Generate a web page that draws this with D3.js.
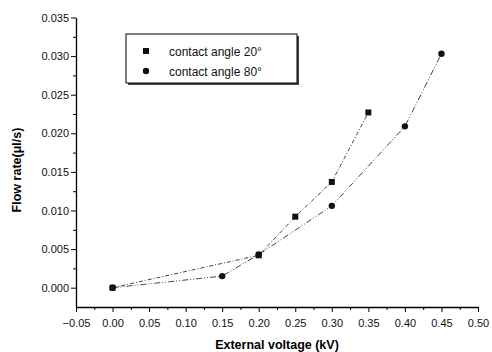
<!DOCTYPE html>
<html>
<head>
<meta charset="utf-8">
<script src="https://cdn.jsdelivr.net/npm/d3@7"></script>
<style>
  body { margin: 0; background: #fff; }
  svg { font-family: Arial, "Liberation Sans", sans-serif; }
</style>
</head>
<body>
<div id="chart"></div>
<script>
// data
const voltage20 = [0.00, 0.20, 0.25, 0.30, 0.35];
const flow20 = [0.0000, 0.0042, 0.0092, 0.0137, 0.0227];
const voltage80 = [0.00, 0.15, 0.20, 0.30, 0.40, 0.45];
const flow80 = [0.0000, 0.0015, 0.0043, 0.0106, 0.0209, 0.0303];
const xTicks = [-0.05, 0.00, 0.05, 0.10, 0.15, 0.20, 0.25, 0.30, 0.35, 0.40, 0.45, 0.50];
const yTicks = [0.000, 0.005, 0.010, 0.015, 0.020, 0.025, 0.030, 0.035];
const seriesLabels = ['contact angle 20°', 'contact angle 80°'];

const width = 492, height = 352;
const margin = { top: 17.5, right: 14, bottom: 45, left: 76 };

const svg = d3.select('#chart').append('svg')
    .attr('width', width)
    .attr('height', height);

const x = d3.scaleLinear().domain([-0.05, 0.5]).range([margin.left, width - margin.right]);
const y = d3.scaleLinear().domain([-0.0025, 0.035]).range([height - margin.bottom, margin.top]);

// axes
const xAxis = svg.append('g')
    .attr('transform', `translate(0,${height - margin.bottom})`)
    .call(d3.axisBottom(x).tickValues(xTicks).tickFormat(d3.format('.2f')).tickSize(5).tickSizeOuter(0));
const xMinor = svg.append('g')
    .attr('transform', `translate(0,${height - margin.bottom})`)
    .call(d3.axisBottom(x).tickValues(xTicks.slice(0, -1).map((d) => d + 0.025)).tickFormat('').tickSize(3).tickSizeOuter(0));
xMinor.select('.domain').remove();

const yAxis = svg.append('g')
    .attr('transform', `translate(${margin.left},0)`)
    .call(d3.axisLeft(y).tickValues(yTicks).tickFormat(d3.format('.3f')).tickSize(5).tickSizeOuter(0));
const yMinor = svg.append('g')
    .attr('transform', `translate(${margin.left},0)`)
    .call(d3.axisLeft(y).tickValues(yTicks.slice(0, -1).map((d) => d + 0.0025)).tickFormat('').tickSize(3).tickSizeOuter(0));
yMinor.select('.domain').remove();

svg.selectAll('.domain').attr('stroke', '#000').attr('stroke-width', 1.3);
svg.selectAll('.tick line').attr('stroke', '#000').attr('stroke-width', 1);
svg.selectAll('.tick text').attr('font-size', 11).attr('fill', '#111')
    .attr('font-family', 'Arial, "Liberation Sans", sans-serif');
xAxis.selectAll('.tick text').attr('dy', '1.05em');
yAxis.selectAll('.tick text').attr('x', -7);

// axis titles
svg.append('text')
    .attr('x', (x(-0.05) + x(0.5)) / 2)
    .attr('y', 349)
    .attr('text-anchor', 'middle')
    .attr('font-size', 12.5)
    .attr('font-weight', 'bold')
    .text('External voltage (kV)');

svg.append('text')
    .attr('transform', 'translate(21,170) rotate(-90)')
    .attr('text-anchor', 'middle')
    .attr('font-size', 12.5)
    .attr('font-weight', 'bold')
    .text('Flow rate(μl/s)');

// lines
const pts20 = voltage20.map((v, i) => [v, flow20[i]]);
const pts80 = voltage80.map((v, i) => [v, flow80[i]]);
const line = d3.line().x((d) => x(d[0])).y((d) => y(d[1]));

svg.append('path').datum(pts20)
    .attr('d', line).attr('fill', 'none')
    .attr('stroke', '#444').attr('stroke-width', 1)
    .attr('stroke-dasharray', '4,2,1,2');
svg.append('path').datum(pts80)
    .attr('d', line).attr('fill', 'none')
    .attr('stroke', '#444').attr('stroke-width', 1)
    .attr('stroke-dasharray', '6,2,1,2,1,2');

svg.append('g').selectAll('rect').data(pts80).join('circle')
    .attr('cx', (d) => x(d[0])).attr('cy', (d) => y(d[1]))
    .attr('r', 3.2).attr('fill', '#111');
svg.append('g').selectAll('rect').data(pts20).join('rect')
    .attr('x', (d) => x(d[0]) - 3).attr('y', (d) => y(d[1]) - 3)
    .attr('width', 6).attr('height', 6).attr('fill', '#111');

// legend
const legend = svg.append('g').attr('transform', 'translate(126,34)');
legend.append('rect')
    .attr('x', 2).attr('y', 2).attr('width', 171).attr('height', 49).attr('fill', '#444');
legend.append('rect')
    .attr('x', 0).attr('y', 0).attr('width', 171).attr('height', 49)
    .attr('fill', '#fff').attr('stroke', '#000').attr('stroke-width', 1);

seriesLabels.forEach((label, i) => {
    const yy = 17 + i * 20;
    if (i === 0) {
        legend.append('rect').attr('x', 17).attr('y', yy - 3).attr('width', 6).attr('height', 6).attr('fill', '#111');
    } else {
        legend.append('circle').attr('cx', 20).attr('cy', yy).attr('r', 3.2).attr('fill', '#111');
    }
    legend.append('text')
        .attr('x', 43).attr('y', yy + 4.5)
        .attr('font-size', 12)
        .attr('fill', '#111')
        .text(label);
});
</script>
</body>
</html>
